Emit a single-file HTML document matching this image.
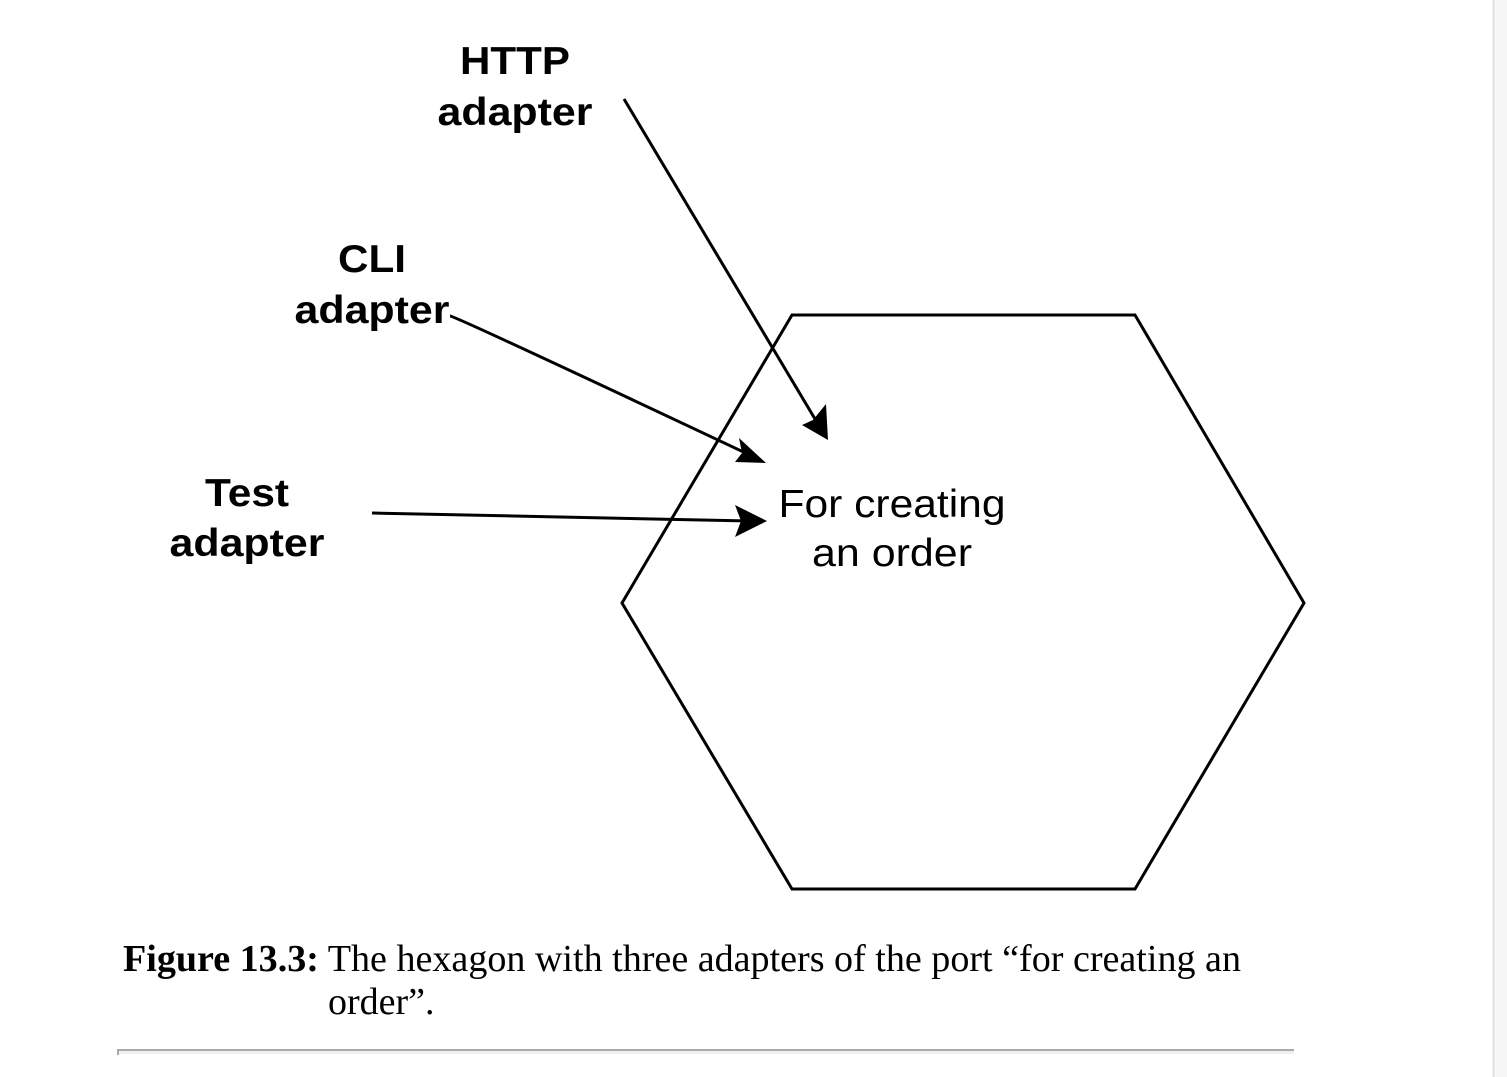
<!DOCTYPE html>
<html><head><style>
body{margin:0;background:#fff;}
svg{display:block}
</style></head><body>
<svg width="1507" height="1077" xmlns="http://www.w3.org/2000/svg">
<rect x="1493" y="0" width="14" height="1077" fill="#f7f7f7"/>
<line x1="1493.5" y1="0" x2="1493.5" y2="1077" stroke="#e0e0e0" stroke-width="2"/>
<polygon points="792,315 1135,315 1304,603 1135,889 792,889 622,603" fill="none" stroke="#000" stroke-width="3"/>
<g stroke="#000" stroke-width="3" fill="none">
<line x1="624" y1="99" x2="818" y2="424"/>
<path d="M828,440 L802,425 L813,420 L826,404z" fill="#000" stroke="none"/>
<path d="M450,316 Q455,316 752,456"/>
<path d="M766,463 L735,462 L742,453 L739,438z" fill="#000" stroke="none"/>
<line x1="372" y1="513" x2="750" y2="521"/>
<path d="M767,521 L735,537 L741,521 L735,505z" fill="#000" stroke="none"/>
</g>
<g font-family="Liberation Sans, sans-serif" font-size="39" text-anchor="middle" lengthAdjust="spacingAndGlyphs">
<text x="515" y="74" font-weight="bold" textLength="110" lengthAdjust="spacingAndGlyphs">HTTP</text>
<text x="515" y="125" font-weight="bold" textLength="155" lengthAdjust="spacingAndGlyphs">adapter</text>
<text x="372" y="272" font-weight="bold" textLength="68" lengthAdjust="spacingAndGlyphs">CLI</text>
<text x="372" y="323" font-weight="bold" textLength="155" lengthAdjust="spacingAndGlyphs">adapter</text>
<text x="247" y="506" font-weight="bold" textLength="84" lengthAdjust="spacingAndGlyphs">Test</text>
<text x="247" y="556" font-weight="bold" textLength="155" lengthAdjust="spacingAndGlyphs">adapter</text>
<text x="892" y="517" textLength="227" lengthAdjust="spacingAndGlyphs">For creating</text>
<text x="892" y="566" textLength="160" lengthAdjust="spacingAndGlyphs">an order</text>
</g>
<g font-family="Liberation Serif, serif" font-size="38">
<text x="123" y="971" textLength="1118" lengthAdjust="spacingAndGlyphs"><tspan font-weight="bold">Figure 13.3:</tspan> The hexagon with three adapters of the port “for creating an</text>
<text x="328" y="1014">order”.</text>
</g>
<rect x="117" y="1049" width="1177" height="2" fill="#aaa"/>
<rect x="117" y="1051" width="1177" height="3" fill="#f0f0f0"/>
<rect x="117" y="1049" width="2" height="6" fill="#aaa"/>
</svg>
</body></html>
